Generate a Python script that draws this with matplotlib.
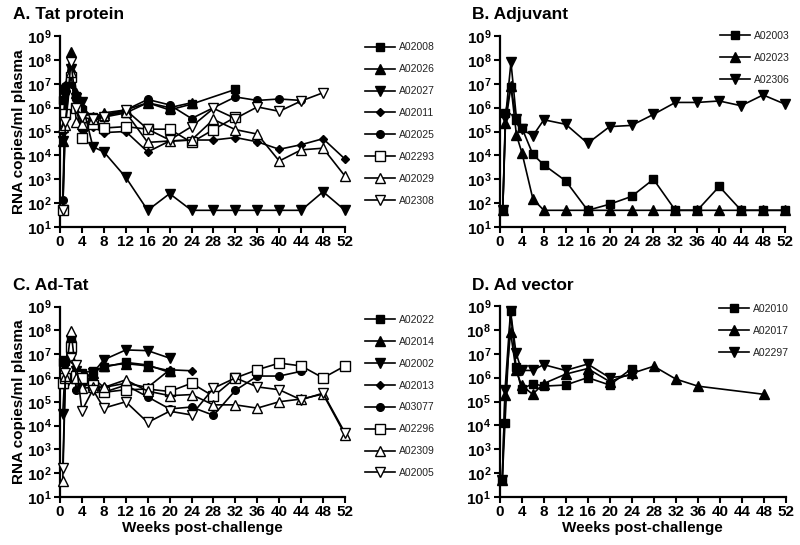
import numpy as np
import matplotlib
matplotlib.use('Agg')
import matplotlib.pyplot as plt
from matplotlib.ticker import FixedLocator, FixedFormatter, NullLocator

plt.rcParams['font.family'] = ['Liberation Sans', 'DejaVu Sans']
plt.rcParams['mathtext.fontset'] = 'custom'
plt.rcParams['mathtext.rm'] = 'Liberation Sans:bold'
plt.rcParams['mathtext.bf'] = 'Liberation Sans:bold'
plt.rcParams['mathtext.it'] = 'Liberation Sans:bold'

nan = np.nan
weeks = [0.5, 1, 2, 3, 4, 6, 8, 12, 16, 20, 24, 28, 32, 36, 40, 44, 48, 52]
x_ticks = [0, 4, 8, 12, 16, 20, 24, 28, 32, 36, 40, 44, 48, 52]
y_exponents = [1, 2, 3, 4, 5, 6, 7, 8, 9]

# ---- Panel A: Tat protein ----
A_names = ['A02008', 'A02026', 'A02027', 'A02011', 'A02025', 'A02293', 'A02029', 'A02308']
A02008 = [2e6, 6e6, 2e7, 3e6, 8e5, 4e5, 4e5, 6e5, 1.6e6, 8e5, 1.4e6, nan, 5.8e6, nan, nan, nan, nan, nan]
A02026 = [4e4, 8e6, 2.2e8, 4e6, 8e5, 4e5, 6e5, 8e5, 1.6e6, 1e6, 1.6e6, nan, nan, nan, nan, nan, nan, nan]
A02027 = [4e4, 3e6, 4e7, 2.5e6, 1.7e6, 2.3e4, 1.4e4, 1.2e3, 50, 250, 50, 50, 50, 50, 50, 50, 300, 50]
A02011 = [1e5, 4e6, 1e7, 2e6, 1.2e5, 1.6e5, 9e4, 1e5, 1.4e4, 4e4, 4.4e4, 4.4e4, 5.6e4, 3.7e4, 1.8e4, 2.8e4, 5e4, 7e3]
A02025 = [140, 8e6, 3e7, 2.5e6, 1e6, 4e5, 5e5, 8e5, 2.2e6, 1.3e6, 3.5e5, nan, 2.8e6, 2e6, 2.3e6, 2e6, nan, nan]
A02293 = [50, 5.6e5, 2e7, 1e6, 5.6e4, 2e5, 1.4e5, 1.6e5, 1.25e5, 1.25e5, 3.5e4, 1.2e5, 4e5, nan, nan, nan, nan, nan]
A02029 = [1.6e5, 1.8e5, 3e7, 2.5e5, 2e5, 3.2e5, 5e5, 6.3e5, 3.5e4, 4e4, 4.4e4, 3.2e5, 1.2e5, 7.8e4, 5.8e3, 1.7e4, 2e4, 1.35e3]
A02308 = [50, 2.5e5, 8e7, 1e6, 4e5, 3.2e5, 4e5, 8e5, 1.25e5, 4.4e4, 1.6e5, 9.3e5, 3.5e5, 1.07e6, 7e5, 1.9e6, 4.2e6, nan]

# ---- Panel B: Adjuvant ----
B_names = ['A02003', 'A02023', 'A02306']
A02003 = [50, 6e5, 7.5e6, 3e5, 1.4e5, 1.1e4, 4e3, 850, 50, 90, 190, 1e3, 50, 50, 500, 50, 50, 50]
A02023 = [50, 2.2e5, 8e6, 7e4, 1.3e4, 150, 50, 50, 50, 50, 50, 50, 50, 50, 50, 50, 50, 50]
A02306 = [50, 3.7e5, 8e7, 3.5e5, 1.25e5, 6.6e4, 3.1e5, 2e5, 3.2e4, 1.6e5, 1.8e5, 5.2e5, 1.65e6, 1.65e6, 1.9e6, 1.2e6, 3.4e6, 1.4e6]

# ---- Panel C: Ad-Tat ----
C_names = ['A02022', 'A02014', 'A02002', 'A02013', 'A03077', 'A02296', 'A02309', 'A02005']
A02022 = [4.9e6, 5e6, 4e7, 1.4e6, 1.6e6, 2e6, 2.8e6, 4.5e6, 3.5e6, 1.7e6, nan, nan, nan, nan, nan, nan, nan, nan]
A02014 = [6e5, 1.6e6, 5e7, 1e6, 8e5, 1.6e6, 3.2e6, 4e6, 3.2e6, 2e6, nan, nan, nan, nan, nan, nan, nan, nan]
A02002 = [3.2e4, 5e6, 4e7, 2e6, 1e6, 1.6e6, 5.8e6, 1.5e7, 1.4e7, 6.8e6, nan, nan, nan, nan, nan, nan, nan, nan]
A02013 = [4e6, 1e6, 3e7, 3e5, 8e5, 1e6, 4e5, 6e5, 4e5, 2.2e6, 2e6, nan, nan, nan, nan, nan, nan, nan]
A03077 = [5e6, 6e5, 2.5e7, 3e5, 6e5, 1e6, 2.5e5, 5e5, 1.6e5, 5e4, 6e4, 2.7e4, 3e5, 1.2e6, 1.2e6, 1.9e6, nan, nan]
A02296 = [6e5, 1e6, 2e7, 1.2e6, 1e6, 5e5, 2.5e5, 3.2e5, 3.4e5, 2.7e5, 6e5, 1.7e5, 1e6, 2.2e6, 4.2e6, 3.2e6, 1e6, 3.2e6]
A02309 = [46, 1.2e6, 9.5e7, 1e6, 3.7e5, 4e5, 4e5, 8.3e5, 2.8e5, 1.8e5, 2e5, 7.4e4, 7.4e4, 5.4e4, 1e5, 1.3e5, 2.1e5, 4.2e3]
A02005 = [160, 1.6e6, 6.8e6, 3.5e6, 4.2e4, 3.2e5, 5.4e4, 1e5, 1.35e4, 4e4, 2.8e4, 3.7e5, 1e6, 4.2e5, 3.2e5, 1.2e5, 2.3e5, 4.9e3]

# ---- Panel D: Ad vector ----
D_names = ['A02010', 'A02017', 'A02297']
A02010 = [50, 1.3e4, 6e8, 2.8e6, 3.2e5, 5.6e5, 4.4e5, 4.9e5, 1e6, 4.9e5, 2.4e6, nan, nan, nan, nan, nan, nan, nan]
A02017 = [50, 1.9e5, 8.3e7, 2e6, 4.9e5, 2e5, 5.6e5, 1.4e6, 2.4e6, 6.8e5, 1.5e6, 3e6, 8.7e5, 4.4e5, nan, nan, 2e5, nan]
A02297 = [50, 3e5, 6e8, 1.1e7, 2e6, 2e6, 3.5e6, 2e6, 3.7e6, 1e6, 1.25e6, nan, nan, nan, nan, nan, nan, nan]

# marker styles: (marker, filled, size)
styles8 = [('s', True, 5.5), ('^', True, 6.5), ('v', True, 6.5), ('D', True, 3.8),
           ('o', True, 5.5), ('s', False, 6.5), ('^', False, 7.5), ('v', False, 7.5)]
styles3 = [('s', True, 5.5), ('^', True, 6.5), ('v', True, 6.5)]

W, H = 800, 545
fig = plt.figure(figsize=(8, 5.45), dpi=100)


def px_axes(x0, y0, x1, y1):
    return fig.add_axes([x0 / W, 1 - y1 / H, (x1 - x0) / W, (y1 - y0) / H])


def draw_panel(ax, names, series, styles, legend_xy, title, title_xy, ylabel, xlabel):
    handles = []
    for name, vals, (mk, filled, ms) in zip(names, series, styles):
        w = np.array(weeks, float)
        v = np.array(vals, float)
        m = ~np.isnan(v)
        ln, = ax.plot(w[m], v[m], color='black', lw=1.2, marker=mk, ms=ms,
                      mfc='black' if filled else 'white', mec='black', mew=1.0,
                      clip_on=False, zorder=3, label=name)
        handles.append(ln)
    ax.set_yscale('log')
    ax.set_ylim(10, 1e9)
    ax.set_xlim(0, 52)
    ax.xaxis.set_major_locator(FixedLocator(x_ticks))
    ax.xaxis.set_major_formatter(FixedFormatter([str(t) for t in x_ticks]))
    ax.yaxis.set_major_locator(FixedLocator([10.0 ** e for e in y_exponents]))
    ax.yaxis.set_major_formatter(FixedFormatter([r'$\mathbf{10^{%d}}$' % e for e in y_exponents]))
    ax.yaxis.set_minor_locator(NullLocator())
    ax.xaxis.set_minor_locator(NullLocator())
    for s in ['top', 'right']:
        ax.spines[s].set_visible(False)
    for s in ['left', 'bottom']:
        ax.spines[s].set_linewidth(1.6)
    ax.tick_params(direction='out', length=4, width=1.5, labelsize=11, pad=2)
    for lab in ax.get_xticklabels():
        lab.set_fontweight('bold')
    leg = ax.legend(handles=handles, loc='upper left',
                    bbox_to_anchor=(legend_xy[0] / W, 1 - legend_xy[1] / H),
                    bbox_transform=fig.transFigure, frameon=False, fontsize=7.5,
                    handlelength=2.9, handletextpad=0.35, labelspacing=1.14,
                    borderpad=0, borderaxespad=0)
    for t in leg.get_texts():
        t.set_color('#222222')
    fig.text(title_xy[0] / W, 1 - title_xy[1] / H, title, fontsize=12.5,
             fontweight='bold', ha='left', va='center')
    if ylabel:
        pos = ax.get_position()
        fig.text(19 / W, pos.y0 + pos.height / 2, ylabel, rotation=90, fontsize=11,
                 fontweight='bold', ha='center', va='center')
    if xlabel:
        pos = ax.get_position()
        fig.text(pos.x0 + pos.width / 2, 1 - 528 / H, xlabel, fontsize=11,
                 fontweight='bold', ha='center', va='center')


axA = px_axes(60, 36, 345, 227)
axB = px_axes(500, 36, 785, 227)
axC = px_axes(60, 306.5, 345, 497)
axD = px_axes(499.5, 306, 786, 497)

draw_panel(axA, A_names, [A02008, A02026, A02027, A02011, A02025, A02293, A02029, A02308],
           styles8, (365, 42.5), 'A. Tat protein', (13, 15), 'RNA copies/ml plasma', None)
draw_panel(axB, B_names, [A02003, A02023, A02306], styles3, (720, 31),
           'B. Adjuvant', (472, 15), None, None)
draw_panel(axC, C_names, [A02022, A02014, A02002, A02013, A03077, A02296, A02309, A02005],
           styles8, (365, 315), 'C. Ad-Tat', (13, 286), 'RNA copies/ml plasma',
           'Weeks post-challenge')
draw_panel(axD, D_names, [A02010, A02017, A02297], styles3, (719, 304),
           'D. Ad vector', (472, 285), None, 'Weeks post-challenge')

fig.savefig('out.png', dpi=100)
